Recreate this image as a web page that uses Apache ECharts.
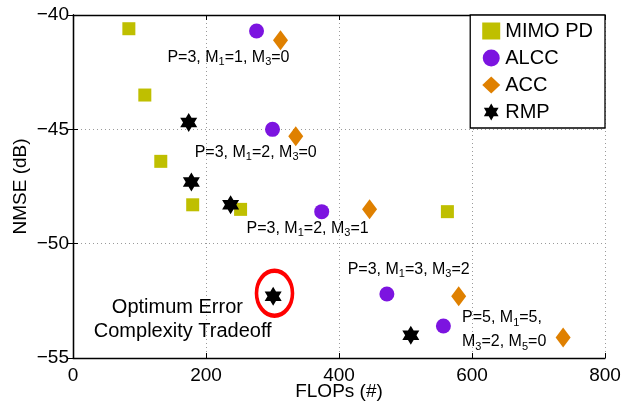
<!DOCTYPE html>
<html>
<head>
<meta charset="utf-8">
<script src="https://cdn.jsdelivr.net/npm/echarts@6/dist/echarts.min.js"></script>
<style>html,body{margin:0;padding:0;background:#fff}#c{width:624px;height:403px}</style>
</head>
<body>
<div id="c"></div>
<script>
// ---- data ----
const seriesNames = ['MIMO PD', 'ALCC', 'ACC', 'RMP'];
const mimoFlops = [84, 108, 132, 180, 252, 563];
const mimoNmse  = [-40.6, -43.5, -46.4, -48.3, -48.5, -48.6];
const alccFlops = [276, 300, 374, 472, 557];
const alccNmse  = [-40.7, -45.0, -48.6, -52.2, -53.6];
const accFlops  = [312, 335, 446, 580, 737];
const accNmse   = [-41.1, -45.3, -48.5, -52.3, -54.1];
const rmpFlops  = [174, 178, 237, 301, 508];
const rmpNmse   = [-44.7, -47.3, -48.3, -52.3, -54.0];
const xTicks = [0, 200, 400, 600, 800];
const yTicks = [-55, -50, -45, -40];
// annotation texts ({n|..} normal, {s|..} subscript) and anchor in data coords
const noteTexts = [
  '{n|P=3, M}{s|1}{n|=1, M}{s|3}{n|=0}',
  '{n|P=3, M}{s|1}{n|=2, M}{s|3}{n|=0}',
  '{n|P=3, M}{s|1}{n|=2, M}{s|3}{n|=1}',
  '{n|P=3, M}{s|1}{n|=3, M}{s|3}{n|=2}',
  '{n|P=5, M}{s|1}{n|=5,}',
  '{n|M}{s|3}{n|=2, M}{s|5}{n|=0}'
];
const noteX = [142, 183, 261, 413, 585, 585];
const noteY = [-41.85, -46.0, -49.35, -51.15, -53.25, -54.3];
const bigTexts = ['Optimum Error', 'Complexity Tradeoff'];
const bigX = [157, 165];
const bigY = [-52.8, -53.85];
const highlight = [303, -52.17];

// ---- chart ----
const zip = (a, b) => a.map((v, i) => [v, b[i]]);
function hexagram() {
  const pts = [];
  for (let k = 0; k < 12; k++) {
    const ang = (-90 + 30 * k) * Math.PI / 180;
    const r = k % 2 === 0 ? 1 : 0.57735;
    pts.push((50 + 50 * r * Math.cos(ang)).toFixed(2) + ' ' + (50 + 50 * r * Math.sin(ang)).toFixed(2));
  }
  return 'path://M' + pts.join(' L') + ' Z';
}
const STAR = hexagram();
const FONT = 'Liberation Sans, Arial, Helvetica, sans-serif';
const minus = v => (v < 0 ? '\u2212' : '') + Math.abs(v);

const chart = echarts.init(document.getElementById('c'), null, {renderer: 'canvas'});
const gridLine = {show: true, lineStyle: {color: '#9a9a9a', type: [1, 3], width: 1}};
const axLine = {show: true, lineStyle: {color: '#000', width: 1.3}};
const tick = {show: true, inside: true, length: 5, lineStyle: {color: '#000', width: 1}};

chart.setOption({
  animation: false,
  backgroundColor: '#fff',
  textStyle: {fontFamily: FONT},
  grid: {left: 73, right: 19, top: 15, bottom: 45, containLabel: false, outerBoundsMode: 'none'},
  xAxis: [{
    type: 'value', min: xTicks[0], max: xTicks[xTicks.length - 1], interval: 200,
    position: 'bottom',
    name: 'FLOPs (#)', nameLocation: 'middle', nameGap: 24, nameMoveOverlap: false,
    nameTextStyle: {fontSize: 19, color: '#000', fontFamily: FONT, verticalAlign: 'top'},
    axisLine: axLine, axisTick: tick, splitLine: gridLine,
    axisLabel: {fontSize: 19, color: '#000', margin: 8, fontFamily: FONT}
  }, {
    type: 'value', min: xTicks[0], max: xTicks[xTicks.length - 1], interval: 200,
    position: 'top', axisLine: axLine, axisTick: tick, axisLabel: {show: false}, splitLine: {show: false}
  }],
  yAxis: [{
    type: 'value', min: yTicks[0], max: yTicks[yTicks.length - 1], interval: 5,
    position: 'left',
    name: 'NMSE (dB)', nameLocation: 'middle', nameGap: 43, nameRotate: 90, nameMoveOverlap: false,
    nameTextStyle: {fontSize: 19, color: '#000', fontFamily: FONT},
    axisLine: axLine, axisTick: tick, splitLine: gridLine,
    axisLabel: {fontSize: 19, color: '#000', margin: 4, formatter: minus, fontFamily: FONT}
  }, {
    type: 'value', min: yTicks[0], max: yTicks[yTicks.length - 1], interval: 5,
    position: 'right', axisLine: axLine, axisTick: tick, axisLabel: {show: false}, splitLine: {show: false}
  }],
  legend: {
    data: seriesNames, orient: 'vertical', right: 19, top: 15,
    backgroundColor: '#fff', borderColor: '#000', borderWidth: 1.3, borderRadius: 0,
    padding: [6, 12, 6, 12], itemGap: 7, itemWidth: 18, itemHeight: 17,
    textStyle: {fontSize: 20, color: '#000', lineHeight: 20, fontFamily: FONT}
  },
  series: [
    {name: seriesNames[0], type: 'scatter', symbol: 'rect', symbolSize: 13,
     itemStyle: {color: '#bfbf00', opacity: 1}, data: zip(mimoFlops, mimoNmse), z: 3},
    {name: seriesNames[1], type: 'scatter', symbol: 'circle', symbolSize: 15,
     itemStyle: {color: '#7c14e0', opacity: 1}, data: zip(alccFlops, alccNmse), z: 3},
    {name: seriesNames[2], type: 'scatter', symbol: 'diamond', symbolSize: [15, 20],
     itemStyle: {color: '#df8000', opacity: 1}, data: zip(accFlops, accNmse), z: 3},
    {name: seriesNames[3], type: 'scatter', symbol: STAR, symbolSize: [17, 19],
     itemStyle: {color: '#000', opacity: 1}, data: zip(rmpFlops, rmpNmse), z: 4},
    {name: 'highlight', type: 'scatter', symbol: 'circle', symbolSize: [36, 45], silent: true,
     itemStyle: {color: 'rgba(0,0,0,0)', borderColor: '#ff0000', borderWidth: 4, opacity: 1},
     data: [highlight], z: 5},
    {name: 'notes', type: 'scatter', symbolSize: 0, silent: true, z: 6,
     itemStyle: {opacity: 1},
     data: noteTexts.map((t, i) => ({value: [noteX[i], noteY[i]], label: {formatter: t}})),
     label: {show: true, position: 'right', distance: 0, color: '#000',
       rich: {
         n: {fontSize: 16, lineHeight: 20, verticalAlign: 'middle', color: '#000', fontFamily: FONT},
         s: {fontSize: 11, lineHeight: 8, verticalAlign: 'bottom', color: '#000', fontFamily: FONT}
       }}},
    {name: 'bignotes', type: 'scatter', symbolSize: 0, silent: true, z: 6,
     itemStyle: {opacity: 1},
     data: bigTexts.map((t, i) => ({value: [bigX[i], bigY[i]], label: {formatter: t}})),
     label: {show: true, position: 'inside', color: '#000', fontSize: 20, fontFamily: FONT}}
  ]
});
</script>
</body>
</html>
